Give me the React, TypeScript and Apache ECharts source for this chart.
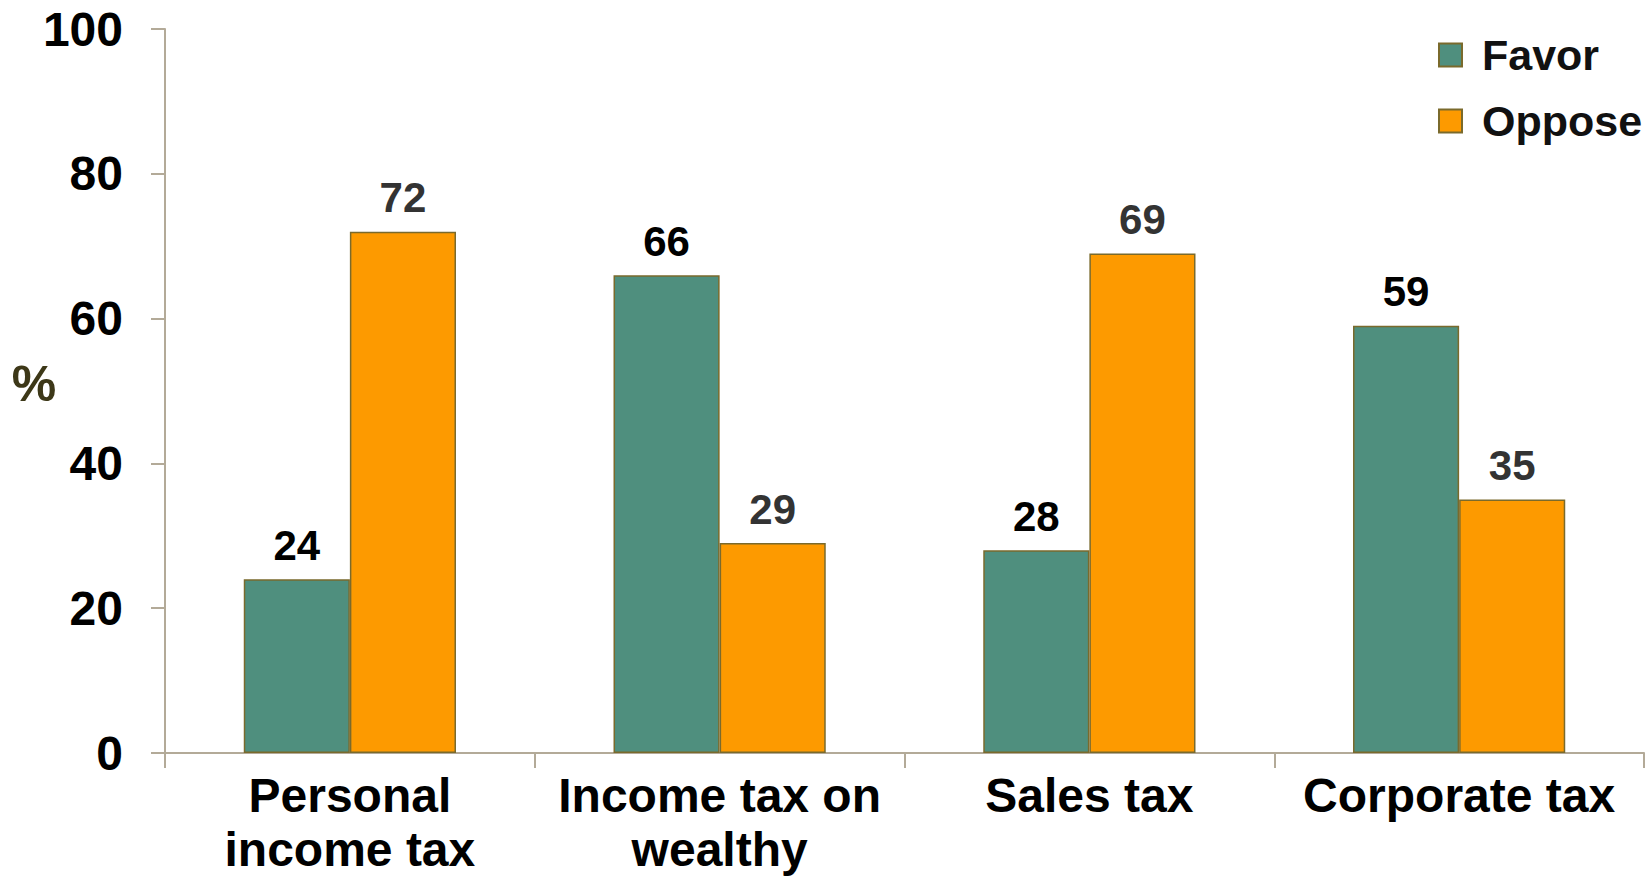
import React, { useEffect, useRef } from "react";
import * as echarts from "echarts";

const categories = ["Personal\nincome tax", "Income tax on\nwealthy", "Sales tax", "Corporate tax"];
const favorValues = [24, 66, 28, 59];
const opposeValues = [72, 29, 69, 35];
const yTicks = { min: 0, max: 100, interval: 20 };

const FONT = "'Liberation Sans', Arial, sans-serif";
const AXIS_COLOR = "#b3aa98";
const BORDER = "#7a6a2c";

export default function App() {
  const ref = useRef<HTMLDivElement>(null);
  useEffect(() => {
    const chart = echarts.init(ref.current!, null, { renderer: "svg" });
    chart.setOption({
      animation: false,
      backgroundColor: "#ffffff",
      textStyle: { fontFamily: FONT },
      grid: { left: 165, right: 7, top: 29, bottom: 122, containLabel: false },
      legend: {
        orient: "vertical",
        left: 1433,
        top: 28,
        itemWidth: 23,
        itemHeight: 23,
        itemGap: 22,
        icon: "rect",
        textStyle: { fontFamily: FONT, fontSize: 43, fontWeight: "bold", color: "#111", lineHeight: 44, padding: [0, 0, 0, 15] },
        data: ["Favor", "Oppose"],
      },
      xAxis: {
        type: "category",
        data: categories,
        axisLine: { lineStyle: { color: AXIS_COLOR, width: 2 } },
        axisTick: { show: true, length: 15, lineStyle: { color: AXIS_COLOR, width: 2 } },
        axisLabel: { fontFamily: FONT, fontSize: 48, fontWeight: "bold", color: "#000", lineHeight: 54, margin: 15, interval: 0 },
      },
      yAxis: {
        type: "value",
        min: yTicks.min,
        max: yTicks.max,
        interval: yTicks.interval,
        splitLine: { show: false },
        axisLine: { show: true, lineStyle: { color: AXIS_COLOR, width: 2 } },
        axisTick: { show: true, length: 14, lineStyle: { color: AXIS_COLOR, width: 2 } },
        axisLabel: { fontFamily: FONT, fontSize: 48, fontWeight: "bold", color: "#000", margin: 42 },
      },
      graphic: [
        {
          type: "text",
          x: 34,
          y: 384,
          style: { text: "%", fontFamily: FONT, fontSize: 50, fontWeight: "bold", fill: "#3d3818", align: "center", verticalAlign: "middle" },
        },
      ],
      series: [
        {
          name: "Favor",
          type: "bar",
          data: favorValues,
          barCategoryGap: "42.6%",
          barGap: "0%",
          itemStyle: { color: "#4f8f7e", borderColor: BORDER, borderWidth: 1.5 },
          label: { show: true, position: "top", distance: 13, fontFamily: FONT, fontSize: 42, fontWeight: "bold", color: "#000" },
        },
        {
          name: "Oppose",
          type: "bar",
          data: opposeValues,
          barCategoryGap: "42.6%",
          barGap: "0%",
          itemStyle: { color: "#fd9a00", borderColor: BORDER, borderWidth: 1.5 },
          label: { show: true, position: "top", distance: 13, fontFamily: FONT, fontSize: 42, fontWeight: "bold", color: "#333" },
        },
      ],
    });
    return () => chart.dispose();
  }, []);
  return <div ref={ref} style={{ width: 1651, height: 876, position: "absolute", left: 0, top: 0 }} />;
}
